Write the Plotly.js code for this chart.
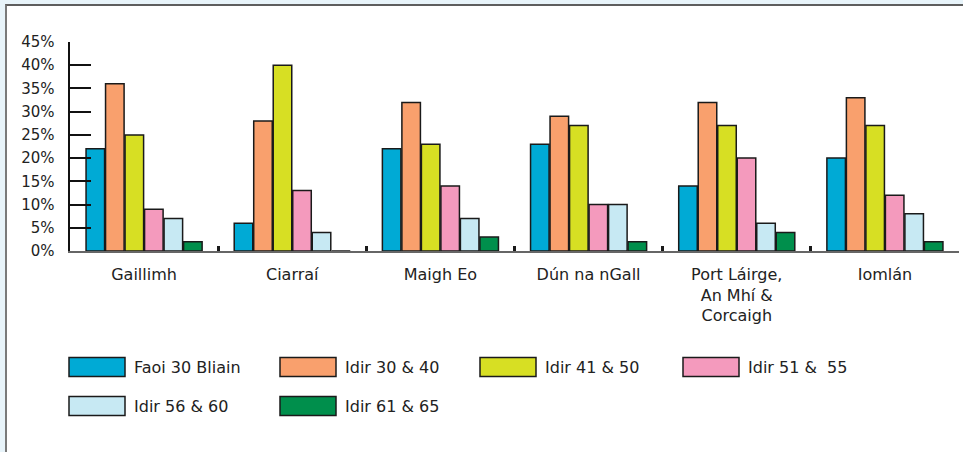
<!DOCTYPE html>
<html>
<head>
<meta charset="utf-8">
<script src="https://cdn.plot.ly/plotly-3.0.1.min.js"></script>
<style>
  html, body { margin: 0; padding: 0; width: 963px; height: 452px; overflow: hidden; background: #e8f4fa; }
  #frame { position: absolute; left: 5px; top: 4px; width: 958px; height: 448px; background: #ffffff;
           border-top: 2px solid #5e5e5e; border-left: 2px solid #7a7a7a; box-sizing: border-box; }
  #chart { position: absolute; left: 0; top: 0; width: 963px; height: 452px; }
</style>
</head>
<body>
<div id="frame"></div>
<div id="chart"></div>
<script>
// ---- data ----
const categories = ["Gaillimh", "Ciarraí", "Maigh Eo", "Dún na nGall", "Port Láirge,<br>An Mhí &<br>Corcaigh", "Iomlán"];
const seriesNames = ["Faoi 30 Bliain", "Idir 30 & 40", "Idir 41 & 50", "Idir 51 &  55", "Idir 56 & 60", "Idir 61 & 65"];
const under30   = [22,  6, 22, 23, 14, 20];
const age30to40 = [36, 28, 32, 29, 32, 33];
const age41to50 = [25, 40, 23, 27, 27, 27];
const age51to55 = [ 9, 13, 14, 10, 20, 12];
const age56to60 = [ 7,  4,  7, 10,  6,  8];
const age61to65 = [ 2,  0,  3,  2,  4,  2];
const yTickVals = [0, 5, 10, 15, 20, 25, 30, 35, 40, 45];

// ---- styles ----
const colors = ["#00aad5", "#f9a06d", "#d7df23", "#f49abd", "#c7e9f3", "#008f4c"];
const seriesValues = [under30, age30to40, age41to50, age51to55, age56to60, age61to65];
const FONT = "DejaVu Sans, sans-serif";

// plot geometry (pixels in the window)
const L = 70, R = 959, T = 42, B = 251;
const W = R - L, H = B - T;
const px2x = p => (p - L) / W;
const py2y = p => (B - p) / H;

const traces = seriesNames.map((name, i) => ({
  type: "bar",
  name: name,
  x: categories,
  y: seriesValues[i],
  marker: { color: colors[i], line: { color: "#1a1a1a", width: 1.5 } },
  showlegend: false,
  hoverinfo: "x+y+name"
}));

// custom legend (swatches + labels), laid out by index
const legendColX = [69, 280, 480, 683];
const legendRowY = [367, 406];
const swW = 56, swH = 19;
const shapes = [];
const annotations = [];
seriesNames.forEach((name, i) => {
  const col = i % 4, row = Math.floor(i / 4);
  const x0 = legendColX[col], yc = legendRowY[row];
  shapes.push({
    type: "rect", xref: "paper", yref: "paper",
    x0: px2x(x0), x1: px2x(x0 + swW),
    y0: py2y(yc - swH / 2), y1: py2y(yc + swH / 2),
    fillcolor: colors[i], line: { color: "#1a1a1a", width: 1.5 }
  });
  annotations.push({
    xref: "paper", yref: "paper", x: px2x(x0 + swW + 7), y: py2y(yc),
    xanchor: "left", yanchor: "middle", showarrow: false,
    text: name, font: { family: FONT, size: 16, color: "#222222" }
  });
});

const layout = {
  width: 963, height: 452,
  margin: { l: L, r: 963 - R, t: T, b: 452 - B, pad: 0 },
  paper_bgcolor: "rgba(0,0,0,0)",
  plot_bgcolor: "rgba(0,0,0,0)",
  barmode: "group",
  bargap: 0.21,
  bargroupgap: 0.05,
  showlegend: false,
  font: { family: FONT, size: 16, color: "#222222" },
  xaxis: {
    type: "category",
    showline: true, linecolor: "#666666", linewidth: 1.5,
    ticks: "inside", tickson: "boundaries", ticklen: 5, tickwidth: 3, tickcolor: "#1a1a1a",
    showgrid: false, zeroline: false,
    tickfont: { family: FONT, size: 16, color: "#222222" },
    ticklabelstandoff: 8,
    fixedrange: true
  },
  yaxis: {
    range: [0, 45],
    tickmode: "array", tickvals: yTickVals, ticktext: yTickVals.map(v => v + "%"),
    showline: true, linecolor: "#111111", linewidth: 2.5,
    ticks: "inside", ticklen: 21, tickwidth: 2, tickcolor: "#111111",
    showgrid: false, zeroline: false,
    tickfont: { family: FONT, size: 15, color: "#222222" },
    ticklabelstandoff: 10,
    fixedrange: true
  },
  shapes: shapes,
  annotations: annotations
};

Plotly.newPlot("chart", traces, layout, { displayModeBar: false, staticPlot: true });
</script>
</body>
</html>
